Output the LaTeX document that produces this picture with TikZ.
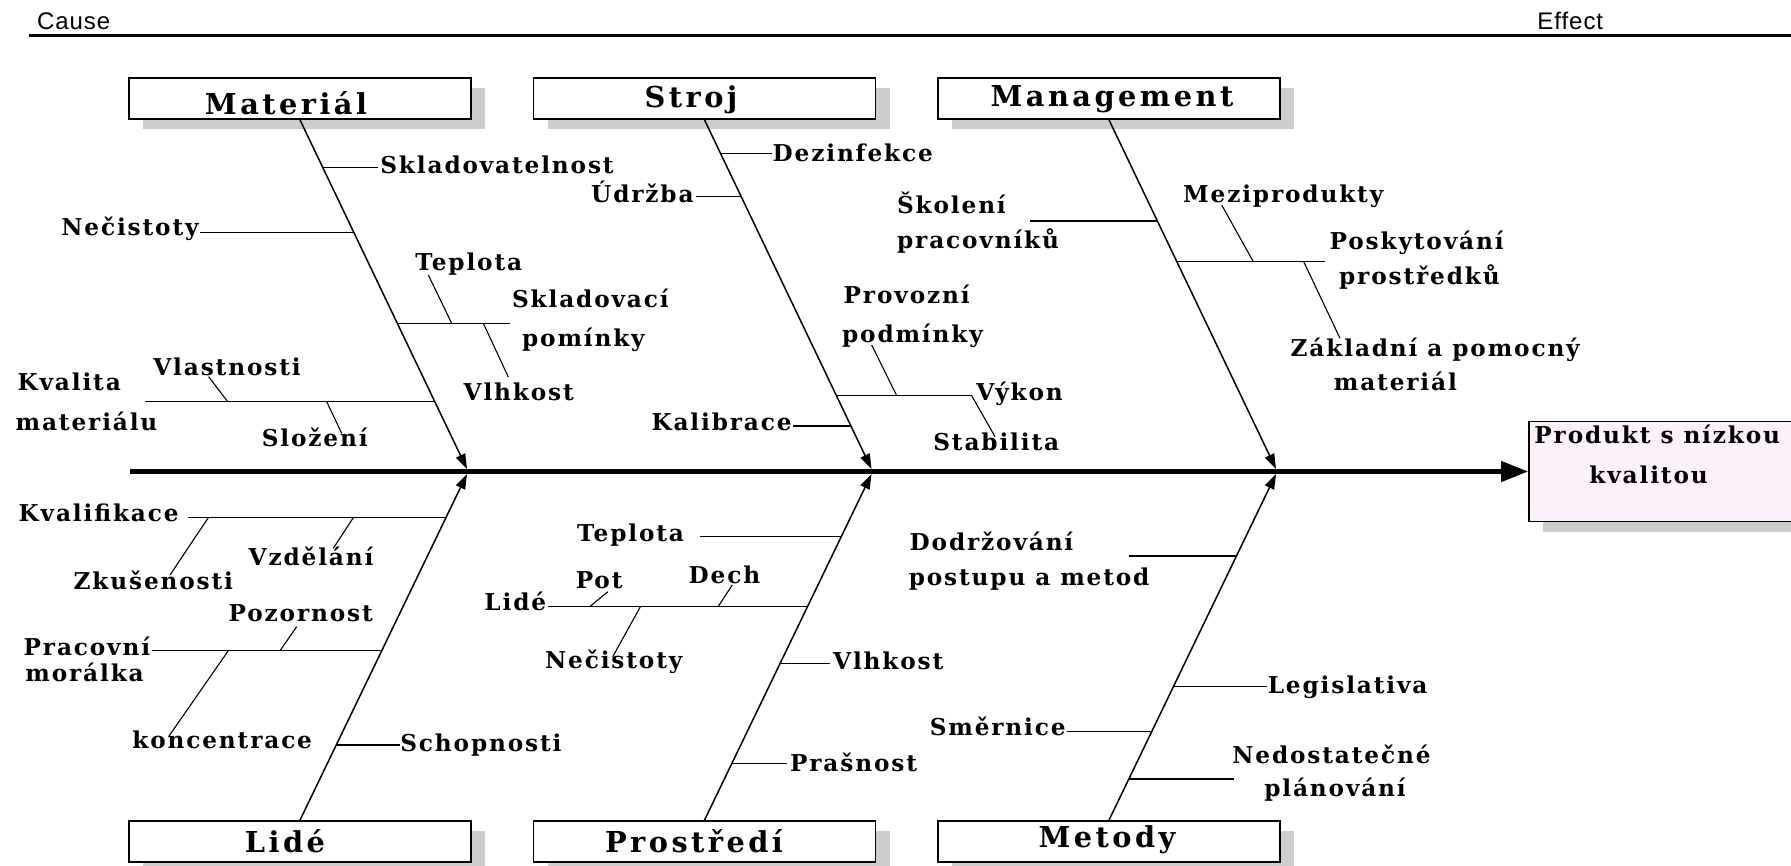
\documentclass[tikz,border=0pt]{standalone}
\usepackage{fontspec}
\newfontfamily\lblfont{DejaVu Serif}[LetterSpace=8]
\newfontfamily\boxfont{DejaVu Serif}[LetterSpace=12]
\newfontfamily\capfont{Liberation Sans}[LetterSpace=4]
\usetikzlibrary{arrows.meta,shadows}
\definecolor{effectfill}{RGB}{252,240,250}
\definecolor{shadowgray}{RGB}{205,205,205}

\begin{document}
\begin{tikzpicture}[x=0.5pt,y=-0.5pt,
  lbl/.style={font=\lblfont\bfseries\fontsize{11.6}{14}\selectfont, inner sep=0pt, anchor=base west},
  lble/.style={lbl, anchor=base east},
  ttl/.style={font=\boxfont\bfseries\fontsize{14.4}{17}\selectfont, inner sep=0pt, anchor=base},
  hdr/.style={font=\capfont\fontsize{12}{14}\selectfont, inner sep=0pt, anchor=base west},
  catbox/.style={draw, fill=white, line width=0.9pt, minimum width=171pt, minimum height=20.5pt,
    inner sep=0pt, drop shadow={shadow xshift=7pt, shadow yshift=-5pt, fill=shadowgray, opacity=1}},
  bone/.style={line width=0.75pt, -{Triangle[length=7.5pt,width=5pt]}},
  twig/.style={line width=0.7pt},
  sub/.style={line width=0.55pt},
]
\useasboundingbox (0,0) rectangle (1791,866);
\clip (0,0) rectangle (1791,866);

% header rule
\coordinate (ruleL) at (29,36);
\coordinate (ruleR) at (1791,36);
\draw[line width=1.5pt] (ruleL) -- (ruleR);
\node[hdr] (cause) at (36.7,30) {Cause};
\node[hdr] (effect) at (1537,30) {Effect};

% category boxes
\node[catbox] (mat) at (300,98.5) {};
\node[catbox] (str) at (704.5,98.5) {};
\node[catbox] (man) at (1109,98.5) {};
\node[catbox] (lid) at (300,841.5) {};
\node[catbox] (pro) at (704.5,841.5) {};
\node[catbox] (met) at (1109,841.5) {};
\node[ttl] (matT) at (286,115) {Materiál};
\node[ttl] (strT) at (691,107.5) {Stroj};
\node[ttl] (manT) at (1112,107) {Management};
\node[ttl] (lidT) at (285,852) {Lidé};
\node[ttl] (proT) at (694,852) {Prostředí};
\node[ttl] (metT) at (1107,847) {Metody};

% effect box and spine
\node[catbox, fill=effectfill, minimum width=135.5pt, minimum height=50pt] (eff) at (1664.5,471.5) {};
\node[lbl] (effA) at (1534,443) {Produkt s nízkou};
\node[lbl] (effB) at (1589,483) {kvalitou};
\coordinate (sp0) at (130,471.5);
\draw[line width=2.3pt, -{Triangle[length=13.5pt,width=10pt]}] (sp0) -- (eff.west);

% main bones
\coordinate (tipM) at (467,469);
\coordinate (tipS) at (871.5,469);
\coordinate (tipG) at (1276,469);
\coordinate (tipL) at (467,474);
\coordinate (tipP) at (871.5,474);
\coordinate (tipD) at (1276,474);
\draw[bone] (mat.south) -- (tipM);
\draw[bone] (str.south) -- (tipS);
\draw[bone] (man.south) -- (tipG);
\draw[bone] (lid.north) -- (tipL);
\draw[bone] (pro.north) -- (tipP);
\draw[bone] (met.north) -- (tipD);

% ---- Materiál
\coordinate (m1) at (323,167.3); \coordinate (m1e) at (378,167.3);
\draw[twig] (m1) -- (m1e);
\node[lbl] (sklad) at (380,174) {Skladovatelnost};

\coordinate (m2) at (354,232.3); \coordinate (m2e) at (200,232.3);
\draw[twig] (m2e) -- (m2);
\node[lble] (necM) at (199,235) {Nečistoty};

\coordinate (m3) at (397.5,323.3); \coordinate (m3e) at (510,323.3);
\draw[twig] (m3) -- (m3e);
\coordinate (m3a) at (451.7,323.3); \coordinate (m3a0) at (428.3,275);
\coordinate (m3b) at (483.3,323.3); \coordinate (m3b0) at (508.3,377);
\draw[sub] (m3a0) -- (m3a);
\draw[sub] (m3b) -- (m3b0);
\node[lbl] (teplM) at (415,270) {Teplota};
\node[lbl] (skladA) at (511.7,307) {Skladovací};
\node[lbl] (skladB) at (521.7,346.7) {pomínky};
\node[lbl] (vlhM) at (463.3,400) {Vlhkost};

\coordinate (m4) at (434.8,401.7); \coordinate (m4e) at (144.7,401.7);
\draw[twig] (m4e) -- (m4);
\coordinate (m4a) at (227.7,401.7); \coordinate (m4a0) at (208.6,376.7);
\coordinate (m4b) at (326.7,401.7); \coordinate (m4b0) at (341.7,433.3);
\draw[sub] (m4a0) -- (m4a);
\draw[sub] (m4b) -- (m4b0);
\node[lbl] (kvalA) at (17.2,390) {Kvalita};
\node[lbl] (kvalB) at (15.3,430) {materiálu};
\node[lbl] (vlast) at (153,375) {Vlastnosti};
\node[lbl] (slozeni) at (261.4,446.7) {Složení};

% ---- Lidé
\coordinate (l1) at (445.9,517.7); \coordinate (l1e) at (188.3,517.7);
\draw[twig] (l1e) -- (l1);
\coordinate (l1a) at (208.3,517.7); \coordinate (l1a0) at (170,575);
\coordinate (l1b) at (353.3,517.7); \coordinate (l1b0) at (333.3,548.3);
\draw[sub] (l1a) -- (l1a0);
\draw[sub] (l1b) -- (l1b0);
\node[lbl] (kvalif) at (18.3,521) {Kvalifikace};
\node[lbl] (zkus) at (73.3,589.3) {Zkušenosti};
\node[lbl] (vzdel) at (248.3,565) {Vzdělání};

\coordinate (l2) at (381.9,650.7); \coordinate (l2e) at (151.7,650.7);
\draw[twig] (l2e) -- (l2);
\coordinate (l2a) at (280,650.7); \coordinate (l2a0) at (296.7,626.7);
\coordinate (l2b) at (228.3,650.7); \coordinate (l2b0) at (169,736);
\draw[sub] (l2a) -- (l2a0);
\draw[sub] (l2b) -- (l2b0);
\node[lble] (pracA) at (150.5,655) {Pracovní};
\node[lbl] (pracB) at (25,681.7) {morálka};
\node[lbl] (pozor) at (228.3,621.7) {Pozornost};
\node[lbl] (konc) at (132,748) {koncentrace};

\coordinate (l3) at (336.6,745); \coordinate (l3e) at (400,745);
\draw[twig] (l3) -- (l3e);
\node[lbl] (schop) at (400,751.7) {Schopnosti};

% ---- Stroj
\coordinate (s1) at (720.9,153.3); \coordinate (s1e) at (772.3,153.3);
\draw[twig] (s1) -- (s1e);
\node[lbl] (dezinf) at (772.3,161.7) {Dezinfekce};

\coordinate (s2) at (741.5,196.7); \coordinate (s2e) at (696.4,196.7);
\draw[twig] (s2e) -- (s2);
\node[lble] (udrz) at (694,202.7) {Údržba};

\coordinate (s3) at (836.5,395.7); \coordinate (s3e) at (971.7,395.7);
\draw[twig] (s3) -- (s3e);
\coordinate (s3a) at (896.7,395.7); \coordinate (s3a0) at (871.7,345);
\coordinate (s3b0) at (995,436.7);
\draw[sub] (s3a0) -- (s3a);
\draw[sub] (s3e) -- (s3b0);
\node[lbl] (vykon) at (976,400.7) {Výkon};
\node[lbl] (provA) at (843.3,303.3) {Provozní};
\node[lbl] (provB) at (841.7,342.7) {podmínky};
\node[lbl] (stab) at (933,450) {Stabilita};

\coordinate (s4) at (850.9,426); \coordinate (s4e) at (792.7,426);
\draw[twig] (s4e) -- (s4);
\node[lble] (kalib) at (792,430) {Kalibrace};

% ---- Management
\coordinate (g1) at (1157.7,221); \coordinate (g1e) at (1030,221);
\draw[twig] (g1e) -- (g1);
\node[lbl] (skolA) at (896.7,213.3) {Školení};
\node[lbl] (skolB) at (896.7,248.3) {pracovníků};

\coordinate (g2) at (1177,261.7); \coordinate (g2e) at (1324.7,261.7);
\draw[twig] (g2) -- (g2e);
\coordinate (g2a) at (1253.3,261.7); \coordinate (g2a0) at (1221.7,205);
\coordinate (g2b) at (1303.7,261.7); \coordinate (g2b0) at (1340,338.3);
\draw[sub] (g2a0) -- (g2a);
\draw[sub] (g2b) -- (g2b0);
\node[lbl] (mezi) at (1182.7,202.7) {Meziprodukty};
\node[lbl] (poskA) at (1329.3,249.3) {Poskytování};
\node[lbl] (poskB) at (1338.7,284) {prostředků};
\node[lbl] (zaklA) at (1290.3,356.7) {Základní a pomocný};
\node[lbl] (zaklB) at (1333.5,390) {materiál};

% ---- Prostředí
\coordinate (p1) at (841.2,536.7); \coordinate (p1e) at (699.8,536.7);
\draw[twig] (p1e) -- (p1);
\node[lbl] (teplP) at (576.8,541) {Teplota};

\coordinate (p2) at (807.6,606.7); \coordinate (p2e) at (548,606.7);
\draw[twig] (p2e) -- (p2);
\coordinate (p2a) at (589.7,606.7); \coordinate (p2a0) at (607.9,591.7);
\coordinate (p2b) at (718,606.7); \coordinate (p2b0) at (732.3,585);
\coordinate (p2c) at (640.4,606.7); \coordinate (p2c0) at (612.7,656.7);
\draw[sub] (p2a) -- (p2a0);
\draw[sub] (p2b) -- (p2b0);
\draw[sub] (p2c) -- (p2c0);
\node[lble] (lideP) at (546.5,610) {Lidé};
\node[lbl] (pot) at (575.4,588.3) {Pot};
\node[lbl] (dech) at (688.3,583.3) {Dech};
\node[lbl] (necP) at (544.7,668.3) {Nečistoty};

\coordinate (p3) at (780.4,663.3); \coordinate (p3e) at (830.4,663.3);
\draw[twig] (p3) -- (p3e);
\node[lbl] (vlhP) at (832.8,669.3) {Vlhkost};

\coordinate (p4) at (732.3,763.3); \coordinate (p4e) at (787.3,763.3);
\draw[twig] (p4) -- (p4e);
\node[lbl] (prasn) at (789.7,771.7) {Prašnost};

% ---- Metody
\coordinate (d1) at (1236.5,556); \coordinate (d1e) at (1129.4,556);
\draw[twig] (d1e) -- (d1);
\node[lbl] (dodrA) at (909.3,550.7) {Dodržování};
\node[lbl] (dodrB) at (908.4,585) {postupu a metod};

\coordinate (d2) at (1173.6,686.7); \coordinate (d2e) at (1267.4,686.7);
\draw[twig] (d2) -- (d2e);
\node[lbl] (legis) at (1267.4,693.3) {Legislativa};

\coordinate (d3) at (1152,731.7); \coordinate (d3e) at (1067.2,731.7);
\draw[twig] (d3e) -- (d3);
\node[lble] (smern) at (1066,735) {Směrnice};

\coordinate (d4) at (1129.2,779); \coordinate (d4e) at (1234.4,779);
\draw[twig] (d4) -- (d4e);
\node[lbl] (nedoA) at (1232,763.3) {Nedostatečné};
\node[lbl] (nedoB) at (1263.9,796.7) {plánování};
\end{tikzpicture}
\end{document}
